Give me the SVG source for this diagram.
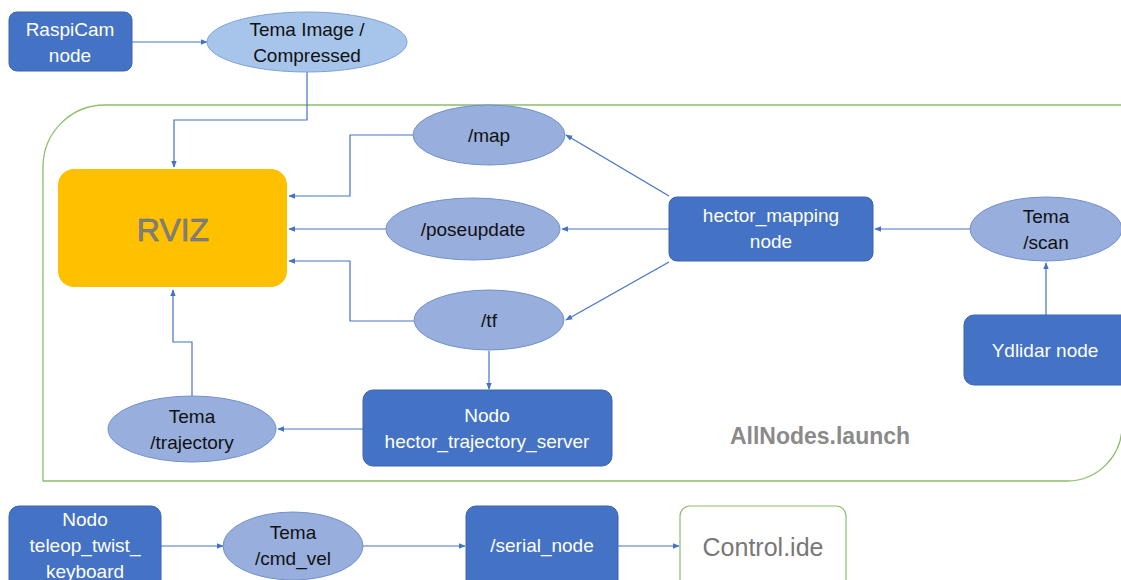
<svg xmlns="http://www.w3.org/2000/svg" width="1121" height="580" viewBox="0 0 1121 580">
<defs>
<style>
.node{fill:#4472C4;stroke:#3A64B0;stroke-width:1}
.topic{fill:#98AEDD;stroke:#7391CC;stroke-width:1}
.topic2{fill:#A7C5EA;stroke:#7FA3D6;stroke-width:1}
.wt{fill:#FFFFFF;font-family:"Liberation Sans",Arial,sans-serif;font-size:19px;text-anchor:middle}
.bt{fill:#111111;font-family:"Liberation Sans",Arial,sans-serif;font-size:19px;text-anchor:middle}
.conn{fill:none;stroke:#4472C4;stroke-width:1.2}
</style>
<marker id="arr" viewBox="0 0 10 10" refX="9" refY="5" markerWidth="7" markerHeight="7" orient="auto" markerUnits="userSpaceOnUse">
<path d="M0,1 L10,5 L0,9 Z" fill="#4472C4"/>
</marker>
</defs>
<rect width="1121" height="580" fill="#FFFFFF"/>

<g id="container">
<path d="M43,481 L43,167 A62,62 0 0 1 105,105 L1122,105 L1122,426 A55,55 0 0 1 1067,481 Z" fill="none" stroke="#8CBF6A" stroke-width="1.3"/>
<text x="820" y="444" font-family="Liberation Sans,Arial,sans-serif" font-size="23" font-weight="bold" fill="#8A8A8A" text-anchor="middle">AllNodes.launch</text>
</g>

<g id="connectors">
<line class="conn" x1="132" y1="42" x2="207" y2="42" marker-end="url(#arr)"/>
<polyline class="conn" points="307,72 307,120 174,120 174,167" marker-end="url(#arr)"/>
<polyline class="conn" points="413,135 350,135 350,196 289,196" marker-end="url(#arr)"/>
<line class="conn" x1="386" y1="229" x2="289" y2="229" marker-end="url(#arr)"/>
<polyline class="conn" points="414,321 350,321 350,261 289,261" marker-end="url(#arr)"/>
<polyline class="conn" points="192,396 192,342 173,342 173,290" marker-end="url(#arr)"/>
<line class="conn" x1="669" y1="196" x2="566" y2="135" marker-end="url(#arr)"/>
<line class="conn" x1="669" y1="229" x2="562" y2="229" marker-end="url(#arr)"/>
<line class="conn" x1="669" y1="262" x2="566" y2="320" marker-end="url(#arr)"/>
<line class="conn" x1="489" y1="351" x2="489" y2="389" marker-end="url(#arr)"/>
<line class="conn" x1="363" y1="429" x2="278" y2="429" marker-end="url(#arr)"/>
<line class="conn" x1="970" y1="229" x2="875" y2="229" marker-end="url(#arr)"/>
<line class="conn" x1="1046" y1="315" x2="1046" y2="263" marker-end="url(#arr)"/>
<line class="conn" x1="161" y1="546" x2="223" y2="546" marker-end="url(#arr)"/>
<line class="conn" x1="363" y1="546" x2="465" y2="546" marker-end="url(#arr)"/>
<line class="conn" x1="618" y1="546" x2="679" y2="546" marker-end="url(#arr)"/>
</g>

<g id="raspicam">
<rect class="node" x="9" y="12" width="123" height="59" rx="8"/>
<text class="wt" x="70" y="36">RaspiCam</text>
<text class="wt" x="70" y="62">node</text>
</g>

<g id="tema-image">
<ellipse class="topic2" cx="307" cy="42" rx="100" ry="30"/>
<text class="bt" x="307" y="36">Tema Image /</text>
<text class="bt" x="307" y="62">Compressed</text>
</g>

<g id="rviz">
<rect x="58" y="169" width="229" height="118" rx="16" fill="#FFC000"/>
<text x="173" y="241" font-family="Liberation Sans,Arial,sans-serif" font-size="32" fill="#808080" stroke="#6E6E6E" stroke-width="0.6" text-anchor="middle">RVIZ</text>
</g>

<g id="map">
<ellipse class="topic" cx="489" cy="135" rx="76" ry="30"/>
<text class="bt" x="489" y="142">/map</text>
</g>

<g id="poseupdate">
<ellipse class="topic" cx="473" cy="229" rx="87" ry="31"/>
<text class="bt" x="473" y="236">/poseupdate</text>
</g>

<g id="tf">
<ellipse class="topic" cx="489" cy="320" rx="75" ry="30"/>
<text class="bt" x="489" y="327">/tf</text>
</g>

<g id="hector-mapping">
<rect class="node" x="669" y="197" width="204" height="64" rx="8"/>
<text class="wt" x="771" y="222">hector_mapping</text>
<text class="wt" x="771" y="248">node</text>
</g>

<g id="scan">
<ellipse class="topic" cx="1046" cy="229" rx="76" ry="32"/>
<text class="bt" x="1046" y="223">Tema</text>
<text class="bt" x="1046" y="249">/scan</text>
</g>

<g id="ydlidar">
<rect class="node" x="964" y="315" width="170" height="70" rx="10"/>
<text class="wt" x="1045" y="357">Ydlidar node</text>
</g>

<g id="trajectory-server">
<rect class="node" x="363" y="390" width="249" height="76" rx="10"/>
<text class="wt" x="487" y="422">Nodo</text>
<text class="wt" x="487" y="448">hector_trajectory_server</text>
</g>

<g id="trajectory">
<ellipse class="topic" cx="192" cy="429" rx="84" ry="33"/>
<text class="bt" x="192" y="423">Tema</text>
<text class="bt" x="192" y="449">/trajectory</text>
</g>

<g id="teleop">
<rect class="node" x="9" y="506" width="152" height="84" rx="10"/>
<text class="wt" x="85" y="526">Nodo</text>
<text class="wt" x="85" y="552">teleop_twist_</text>
<text class="wt" x="85" y="578">keyboard</text>
</g>

<g id="cmd-vel">
<ellipse class="topic" cx="293" cy="546" rx="70" ry="34"/>
<text class="bt" x="293" y="539">Tema</text>
<text class="bt" x="293" y="565">/cmd_vel</text>
</g>

<g id="serial-node">
<rect class="node" x="466" y="506" width="152" height="84" rx="10"/>
<text class="wt" x="542" y="552">/serial_node</text>
</g>

<g id="control-ide">
<rect x="680" y="506" width="166" height="84" rx="10" fill="#FFFFFF" stroke="#8CBF6A" stroke-width="1.2"/>
<text x="763" y="556" font-family="Liberation Sans,Arial,sans-serif" font-size="25" fill="#777777" text-anchor="middle">Control.ide</text>
</g>
</svg>
